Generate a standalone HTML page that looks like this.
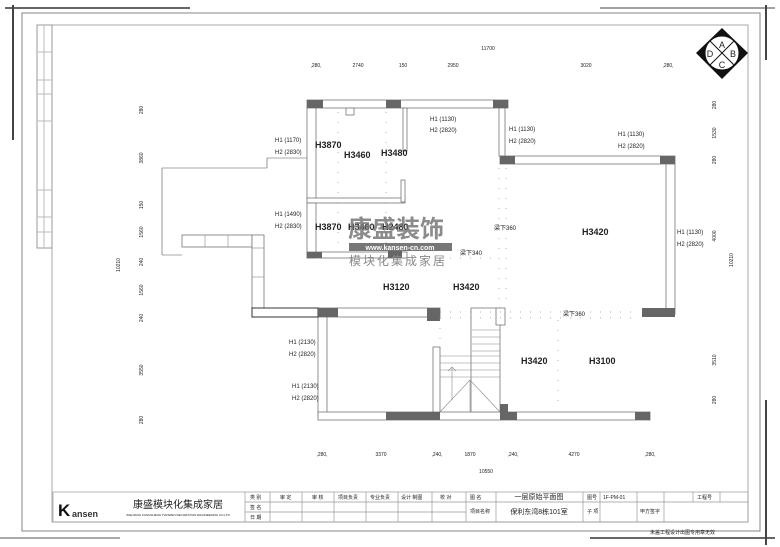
<!DOCTYPE html>
<html><head><meta charset="utf-8"><style>
html,body{margin:0;padding:0;background:#fff}
svg{display:block}
text{font-family:"Liberation Sans","Noto Sans CJK SC",sans-serif;fill:#222}
.s{font-size:6px}
.d{font-size:5px;fill:#444}
.h{font-size:9px;font-weight:bold}
.t{font-size:5px}
</style></head><body>
<svg width="780" height="547" viewBox="0 0 780 547" xmlns="http://www.w3.org/2000/svg">
<rect width="780" height="547" fill="#fff"/>
<!-- frame -->
<rect x="22" y="13" width="738" height="518" fill="none" stroke="#999" stroke-width="1.2"/>
<rect x="52" y="25" width="696" height="497" fill="none" stroke="#aaa" stroke-width="1"/>
<line x1="5" y1="8" x2="190" y2="8" stroke="#333" stroke-width="1.5"/>
<line x1="13" y1="5" x2="13" y2="140" stroke="#444" stroke-width="2"/>
<line x1="590" y1="538" x2="775" y2="538" stroke="#333" stroke-width="1.5"/>
<line x1="766" y1="400" x2="766" y2="545" stroke="#444" stroke-width="2"/>
<line x1="600" y1="8" x2="775" y2="8" stroke="#444" stroke-width="1"/>
<line x1="766" y1="5" x2="766" y2="60" stroke="#444" stroke-width="2"/>
<line x1="0" y1="538" x2="120" y2="538" stroke="#555" stroke-width="1"/>
<!-- left strip -->
<rect x="37" y="25" width="15" height="223" fill="none" stroke="#999"/>
<line x1="44" y1="25" x2="44" y2="248" stroke="#bbb"/>
<g stroke="#bbb"><line x1="37" y1="52" x2="52" y2="52"/><line x1="37" y1="80" x2="52" y2="80"/><line x1="37" y1="94" x2="52" y2="94"/><line x1="37" y1="121" x2="52" y2="121"/><line x1="37" y1="190" x2="52" y2="190"/><line x1="37" y1="217" x2="52" y2="217"/><line x1="37" y1="232" x2="52" y2="232"/></g>
<!-- compass -->
<polygon points="722,28 748,53 722,79 696,53" fill="#111"/>
<circle cx="722" cy="53" r="17" fill="#fff" stroke="#111"/>
<line x1="710" y1="41" x2="734" y2="65" stroke="#111"/><line x1="734" y1="41" x2="710" y2="65" stroke="#111"/>
<text x="722" y="48" font-size="9" text-anchor="middle">A</text><text x="733" y="57" font-size="9" text-anchor="middle">B</text>
<text x="722" y="68" font-size="9" text-anchor="middle">C</text><text x="710" y="57" font-size="9" text-anchor="middle">D</text>
<!-- dimensions -->
<g class="d" text-anchor="middle">
<text x="488" y="50">11700</text>
<text x="316" y="67">,280,</text><text x="358" y="67">2740</text><text x="403" y="67">150</text><text x="453" y="67">2950</text><text x="586" y="67">3020</text><text x="668" y="67">,280,</text>
<text x="322" y="456">,280,</text><text x="381" y="456">3370</text><text x="437" y="456">,240,</text><text x="470" y="456">1870</text><text x="513" y="456">,240,</text><text x="574" y="456">4270</text><text x="650" y="456">,280,</text>
<text x="486" y="473">10550</text>
</g>
<g class="d" text-anchor="middle">
<text transform="translate(143,110) rotate(-90)">280</text><text transform="translate(143,158) rotate(-90)">3860</text><text transform="translate(143,205) rotate(-90)">150</text><text transform="translate(143,232) rotate(-90)">1560</text><text transform="translate(143,262) rotate(-90)">240</text><text transform="translate(143,290) rotate(-90)">1560</text><text transform="translate(143,318) rotate(-90)">240</text><text transform="translate(143,370) rotate(-90)">3550</text><text transform="translate(143,420) rotate(-90)">280</text>
<text transform="translate(120,265) rotate(-90)">10210</text>
<text transform="translate(716,105) rotate(-90)">280</text><text transform="translate(716,133) rotate(-90)">1530</text><text transform="translate(716,160) rotate(-90)">280</text><text transform="translate(716,236) rotate(-90)">4000</text><text transform="translate(716,360) rotate(-90)">3510</text><text transform="translate(716,400) rotate(-90)">280</text>
<text transform="translate(733,260) rotate(-90)">10210</text>
</g>
<!-- walls -->
<g fill="#fff" stroke="#777" stroke-width="0.8">
<rect x="307" y="100" width="201" height="8"/>
<rect x="307" y="108" width="9" height="92"/>
<rect x="307" y="198" width="98" height="5"/>
<rect x="401" y="180" width="4" height="22"/>
<rect x="403" y="108" width="4" height="43"/>
<rect x="346" y="108" width="8" height="7"/>
<rect x="499" y="108" width="6" height="48"/>
<rect x="307" y="203" width="9" height="55"/>
<rect x="307" y="252" width="100" height="6"/>
<rect x="500" y="156" width="175" height="8"/>
<rect x="666" y="164" width="9" height="150"/>
<rect x="252" y="308" width="188" height="9"/>
<rect x="318" y="317" width="9" height="99"/>
<rect x="318" y="412" width="332" height="8"/>
<rect x="433" y="347" width="7" height="65"/>
<rect x="471" y="308" width="29" height="104"/>
<rect x="496" y="308" width="9" height="17"/>
<rect x="182" y="235" width="70" height="12"/>
<rect x="252" y="235" width="12" height="73"/>
</g>
<g stroke="#888" stroke-width="0.6" fill="none">
<line x1="205" y1="235" x2="205" y2="247"/><line x1="228" y1="235" x2="228" y2="247"/><line x1="252" y1="248" x2="264" y2="248"/><line x1="252" y1="277" x2="264" y2="277"/>
<line x1="472" y1="330" x2="500" y2="330"/><line x1="472" y1="337" x2="500" y2="337"/><line x1="472" y1="344" x2="500" y2="344"/><line x1="472" y1="351" x2="500" y2="351"/>
<line x1="440" y1="356" x2="500" y2="356"/><line x1="440" y1="363" x2="500" y2="363"/><line x1="440" y1="370" x2="500" y2="370"/><line x1="440" y1="377" x2="500" y2="377"/>
<polyline points="440,412 470,380 500,412"/><line x1="470" y1="380" x2="470" y2="412"/>
<line x1="452" y1="400" x2="452" y2="367"/><polyline points="448,371 452,367 456,371"/>
<polyline points="162,255 162,168 267,168 267,158 307,158" stroke="#555"/>
<line x1="162" y1="255" x2="182" y2="255" stroke="#555"/>
</g>
<rect x="252" y="308" width="66" height="9" fill="#fff" stroke="#333" stroke-width="1"/>
<!-- columns -->
<g fill="#666">
<rect x="307" y="100" width="16" height="8"/><rect x="386" y="100" width="15" height="8"/><rect x="493" y="100" width="15" height="8"/>
<rect x="500" y="156" width="15" height="8"/><rect x="660" y="156" width="15" height="8"/>
<rect x="307" y="252" width="15" height="6"/><rect x="388" y="250" width="14" height="8"/>
<rect x="318" y="308" width="20" height="9"/><rect x="427" y="308" width="13" height="13"/><rect x="642" y="308" width="33" height="9"/>
<rect x="386" y="412" width="54" height="8"/><rect x="500" y="404" width="8" height="16"/><rect x="500" y="412" width="17" height="8"/><rect x="635" y="412" width="15" height="8"/>
</g>
<!-- dotted beams -->
<g stroke="#999" stroke-width="0.7" stroke-dasharray="1,9" fill="none">
<line x1="338" y1="112" x2="338" y2="250"/><line x1="386" y1="112" x2="386" y2="250"/>
<line x1="499" y1="168" x2="499" y2="305"/><line x1="506" y1="168" x2="506" y2="305"/>
<line x1="440" y1="312" x2="640" y2="312"/><line x1="440" y1="318" x2="640" y2="318"/>
<line x1="440" y1="258" x2="500" y2="258"/><line x1="440" y1="318" x2="440" y2="340"/><line x1="558" y1="320" x2="558" y2="410"/>
</g>
<!-- labels -->
<g class="s">
<text x="275" y="142">H1 (1170)</text><text x="275" y="154">H2 (2830)</text>
<text x="430" y="121">H1 (1130)</text><text x="430" y="132">H2 (2820)</text>
<text x="509" y="131">H1 (1130)</text><text x="509" y="143">H2 (2820)</text>
<text x="618" y="136">H1 (1130)</text><text x="618" y="148">H2 (2820)</text>
<text x="275" y="216">H1 (1490)</text><text x="275" y="228">H2 (2830)</text>
<text x="677" y="234">H1 (1130)</text><text x="677" y="246">H2 (2820)</text>
<text x="289" y="344">H1 (2130)</text><text x="289" y="356">H2 (2820)</text>
<text x="292" y="388">H1 (2130)</text><text x="292" y="400">H2 (2820)</text>
<text x="494" y="230">梁下360</text><text x="460" y="255">梁下340</text><text x="563" y="316">梁下360</text>
</g>
<g class="h">
<text x="315" y="148">H3870</text><text x="344" y="158">H3460</text><text x="381" y="156">H3480</text>
<text x="315" y="230">H3870</text><text x="348" y="230">H3460</text><text x="382" y="230">H2480</text>
<text x="582" y="235">H3420</text><text x="383" y="290">H3120</text><text x="453" y="290">H3420</text>
<text x="521" y="364">H3420</text><text x="589" y="364">H3100</text>
</g>
<!-- watermark -->
<text x="348" y="237" font-size="24" font-weight="bold" fill="#777" style="fill:#777;opacity:.85" font-family="Liberation Serif,'Noto Serif CJK SC',serif">康盛装饰</text>
<rect x="349" y="243" width="103" height="8" fill="#777"/>
<text x="400" y="250" font-size="7" font-weight="bold" text-anchor="middle" style="fill:#fff">www.kansen-cn.com</text>
<text x="349" y="265" font-size="12" letter-spacing="2" style="fill:#888">模块化集成家居</text>
<!-- title block -->
<g stroke="#999" stroke-width="0.7" fill="none">
<rect x="53" y="492" width="695" height="30"/>
<line x1="245" y1="492" x2="245" y2="522"/><line x1="270" y1="492" x2="270" y2="522"/>
<line x1="245" y1="502" x2="466" y2="502"/><line x1="245" y1="512" x2="466" y2="512"/>
<line x1="466" y1="502" x2="748" y2="502"/>
<line x1="302" y1="492" x2="302" y2="522"/><line x1="334" y1="492" x2="334" y2="522"/><line x1="366" y1="492" x2="366" y2="522"/><line x1="398" y1="492" x2="398" y2="522"/><line x1="432" y1="492" x2="432" y2="522"/><line x1="466" y1="492" x2="466" y2="522"/>
<line x1="496" y1="492" x2="496" y2="522"/><line x1="583" y1="492" x2="583" y2="522"/><line x1="600" y1="492" x2="600" y2="522"/><line x1="637" y1="492" x2="637" y2="522"/><line x1="664" y1="492" x2="664" y2="502"/><line x1="664" y1="502" x2="664" y2="522"/><line x1="693" y1="492" x2="693" y2="502"/><line x1="720" y1="492" x2="720" y2="502"/>
</g>
<text x="58" y="516" font-size="17" font-weight="bold" style="fill:#111">K</text>
<text x="72" y="517" font-size="9" font-weight="bold" style="fill:#333">ansen</text>
<text x="178" y="508" font-size="10" text-anchor="middle" font-family="Liberation Serif,'Noto Serif CJK SC',serif">康盛模块化集成家居</text>
<text x="178" y="516" font-size="3" text-anchor="middle">ZHEJIANG KANGSHENG TIANWEN DECORATION ENGINEERING CO.LTD</text>
<g class="t">
<text x="250" y="499">类 别</text><text x="250" y="509">签 名</text><text x="250" y="519">日 期</text>
<text x="280" y="499">审 定</text><text x="312" y="499">审 核</text><text x="338" y="499">项目负责</text><text x="370" y="499">专业负责</text><text x="401" y="499">设计 制图</text><text x="440" y="499">校 对</text>
<text x="470" y="499">图 名</text><text x="470" y="513">项目名称</text>
<text x="587" y="499">图号</text><text x="603" y="499">1F-PM-01</text><text x="697" y="499">工程号</text>
<text x="587" y="513">子 项</text><text x="640" y="513">甲方签字</text>
<text x="650" y="534">未盖工程设计出图专用章无效</text>
</g>
<text x="539" y="499" font-size="7" text-anchor="middle">一层原始平面图</text>
<text x="539" y="514" font-size="7" text-anchor="middle">保利东湾8栋101室</text>
</svg>
</body></html>
